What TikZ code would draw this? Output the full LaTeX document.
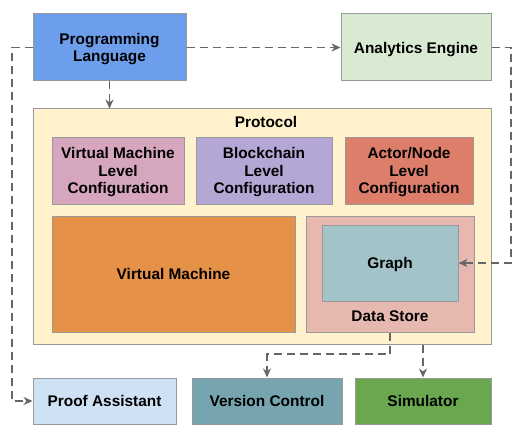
\documentclass[tikz,border=0pt]{standalone}
\usepackage{fontspec}
\setmainfont{Liberation Sans}
\usetikzlibrary{positioning, arrows.meta}
\definecolor{langblue}{HTML}{6D9EEB}
\definecolor{enginegreen}{HTML}{D9EAD3}
\definecolor{protoyellow}{HTML}{FFF2CC}
\definecolor{vmpink}{HTML}{D5A6BD}
\definecolor{chainpurple}{HTML}{B4A7D6}
\definecolor{actorred}{HTML}{DD7E6B}
\definecolor{vmorange}{HTML}{E69148}
\definecolor{storepink}{HTML}{E6B8AF}
\definecolor{graphteal}{HTML}{A2C4C9}
\definecolor{proofblue}{HTML}{CFE2F3}
\definecolor{vcsteal}{HTML}{76A5AF}
\definecolor{simgreen}{HTML}{6AA84F}
\definecolor{bordergray}{HTML}{999999}
\definecolor{linkgray}{HTML}{666666}
\tikzset{
  block/.style={draw=bordergray, line width=1pt, rectangle, inner sep=0pt, align=center,
    font=\fontsize{15.4}{17.5}\selectfont\bfseries, text depth=0pt, yshift=-1pt},
  label text/.style={inner sep=0pt, font=\fontsize{15.4}{17.5}\selectfont\bfseries},
  link/.style={draw=linkgray, line width=1.8pt, dash pattern=on 8pt off 5pt,
    -{Stealth[length=9pt, width=8pt]}},
  open link/.style={link, -{Stealth[open, length=9pt, width=8pt]}}
}

\begin{document}
\begin{tikzpicture}[x=1pt, y=-1pt]
  \useasboundingbox (0,0) rectangle (520,444);

  \node[block, fill=langblue, minimum width=153pt, minimum height=67pt] (lang) at (109.5,46.5) {Programming\\Language};
  \node[block, fill=enginegreen, minimum width=150pt, minimum height=67pt] (engine) at (416,46.5) {Analytics Engine};

  \node[block, fill=protoyellow, minimum width=458pt, minimum height=235pt] (protocol) at (262,225.5) {};
  \node[label text] (protolabel) at (266,122) {Protocol};

  \node[block, fill=vmpink, minimum width=132pt, minimum height=67pt] (vmconf) at (118,169.5) {Virtual Machine\\Level\\Configuration};
  \node[block, fill=chainpurple, minimum width=136pt, minimum height=67pt] (chainconf) at (264,169.5) {Blockchain\\Level\\Configuration};
  \node[block, fill=actorred, minimum width=128pt, minimum height=67pt] (actorconf) at (409,169.5) {Actor/Node\\Level\\Configuration};

  \node[block, fill=vmorange, minimum width=243pt, minimum height=116pt] (vm) at (173.5,273) {Virtual Machine};
  \node[block, fill=storepink, minimum width=168pt, minimum height=116pt] (store) at (390,273) {};
  \node[block, fill=graphteal, minimum width=136pt, minimum height=76pt] (graph) at (390,262) {Graph};
  \node[label text] (storelabel) at (390,316) {Data Store};

  \node[block, fill=proofblue, minimum width=143pt, minimum height=46pt] (proof) at (104.5,400) {Proof Assistant};
  \node[block, fill=vcsteal, minimum width=150pt, minimum height=46pt] (vcs) at (267,400) {Version Control};
  \node[block, fill=simgreen, minimum width=136pt, minimum height=46pt] (sim) at (423,400) {Simulator};

  \coordinate (leftturn) at (12,47.5);
  \coordinate (rightturn) at (511,47.5);
  \coordinate (storeturn) at (390,354);

  \draw[link] (lang.east) -- (engine.west);
  \draw[link] (lang.south) -- (lang.south |- protocol.north);
  \draw[link] (lang.west) -- (leftturn) |- (proof.west);
  \draw[link] (engine.east) -- (rightturn) |- (graph.east);
  \draw[open link] (store.south) -- (storeturn) -| (vcs.north);
  \draw[link] (sim.north |- protocol.south) -- (sim.north);
\end{tikzpicture}
\end{document}
